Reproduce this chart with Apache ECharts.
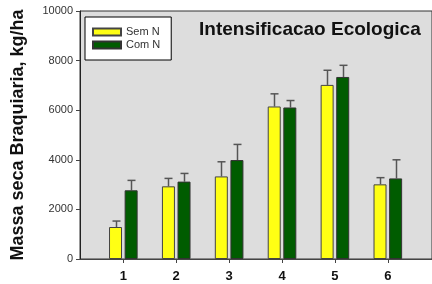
<!DOCTYPE html>
<html>
<head>
<meta charset="utf-8">
<script src="https://cdn.jsdelivr.net/npm/echarts@6/dist/echarts.min.js"></script>
<style>
  html, body { margin: 0; padding: 0; background: #fff; }
  #chart { width: 432px; height: 284px; }
</style>
</head>
<body>
<div id="chart"></div>
<script>
// treatments 1..6
var categories = [1, 2, 3, 4, 5, 6];
var semN = [1290, 2930, 3330, 6150, 7020, 3010];
var semNErr = [240, 320, 590, 510, 590, 270];
var comN = [2770, 3120, 3990, 6110, 7340, 3250];
var comNErr = [400, 330, 630, 280, 470, 750];
var yTicks = [0, 2000, 4000, 6000, 8000, 10000];

var chart = echarts.init(document.getElementById('chart'));

function pairs(vals) {
    return categories.map(function (c, i) { return [c, vals[i]]; });
}

function errData(vals, errs) {
    return categories.map(function (c, i) { return [c, vals[i], vals[i] + errs[i]]; });
}

function errRender(shift) {
    return function (params, api) {
        var lo = api.coord([api.value(0), api.value(1)]);
        var hi = api.coord([api.value(0), api.value(2)]);
        var x = Math.round(lo[0] + shift) + 0.5;
        var st = { stroke: '#555', lineWidth: 1.5 };
        return {
            type: 'group',
            children: [
                { type: 'line', shape: { x1: x, y1: lo[1], x2: x, y2: hi[1] }, style: st },
                { type: 'line', shape: { x1: x - 4, y1: hi[1], x2: x + 4, y2: hi[1] }, style: st }
            ]
        };
    };
}

var option = {
    animation: false,
    title: {
        text: 'Intensificacao Ecologica',
        left: 199,
        top: 20,
        padding: 0,
        textStyle: { fontFamily: 'Liberation Sans', fontSize: 19, fontWeight: 'bold', color: '#111' }
    },
    legend: {
        orient: 'vertical',
        left: 85,
        top: 17,
        padding: [9, 11, 9, 7],
        itemWidth: 28,
        itemHeight: 7,
        itemGap: 1,
        icon: 'rect',
        backgroundColor: '#fff',
        borderColor: '#000',
        borderWidth: 1,
        data: ['Sem N', 'Com N'],
        textStyle: { fontFamily: 'Liberation Sans', fontSize: 11, color: '#333', lineHeight: 12 }
    },
    grid: {
        left: 80, top: 11, right: -6, bottom: 25,
        show: true,
        backgroundColor: '#dddddd',
        borderColor: '#333',
        borderWidth: 1
    },
    xAxis: {
        type: 'value',
        min: 0.181,
        max: 6.835,
        splitLine: { show: false },
        axisLine: { lineStyle: { color: '#444', width: 1 } },
        axisTick: { customValues: categories, length: 4, lineStyle: { color: '#444' } },
        axisLabel: {
            customValues: categories,
            margin: 11,
            fontFamily: 'Liberation Sans',
            fontSize: 13,
            fontWeight: 'bold',
            color: '#111'
        }
    },
    yAxis: {
        type: 'value',
        min: 0,
        max: 10000,
        interval: 2000,
        name: 'Massa seca Braquiaria, kg/ha',
        nameLocation: 'middle',
        nameGap: 53,
        nameTextStyle: { fontFamily: 'Liberation Sans', fontSize: 18, fontWeight: 'bold', color: '#111' },
        splitLine: { show: false },
        axisLine: { show: true, lineStyle: { color: '#222', width: 1 } },
        axisTick: { show: true, length: 4, lineStyle: { color: '#444' } },
        axisLabel: {
            margin: 7,
            fontFamily: 'Liberation Sans',
            fontSize: 11,
            color: '#333',
            formatter: function (v) { return yTicks.indexOf(v) >= 0 ? String(v) : ''; }
        }
    },
    series: [
        {
            name: 'Sem N',
            type: 'bar',
            barWidth: 13,
            barGap: '20%',
            data: pairs(semN),
            itemStyle: { color: '#ffff14', borderColor: '#444', borderWidth: 1 }
        },
        {
            name: 'Com N',
            type: 'bar',
            barWidth: 13,
            barGap: '20%',
            data: pairs(comN),
            itemStyle: { color: '#005c00', borderColor: '#333', borderWidth: 1 }
        },
        {
            type: 'custom',
            renderItem: errRender(-7.8),
            data: errData(semN, semNErr),
            z: 1
        },
        {
            type: 'custom',
            renderItem: errRender(7.8),
            data: errData(comN, comNErr),
            z: 1
        }
    ]
};

chart.setOption(option);
</script>
</body>
</html>
